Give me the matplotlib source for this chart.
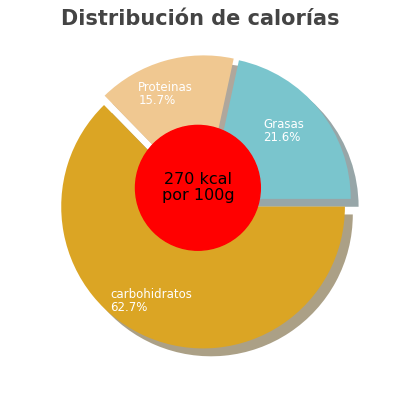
import matplotlib
matplotlib.use("Agg")
import matplotlib.pyplot as plt

labels = ["Grasas", "Proteinas", "carbohidratos"]
values = [21.6, 15.7, 62.7]
colors = ["#7ac5cd", "#f0c891", "#dba524"]
label_pos = [(0.41, 0.50), (-0.47, 0.76), (-0.67, -0.70)]
center_text = "270 kcal\npor 100g"
title = "Distribución de calorías"

fig = plt.figure(figsize=(4, 4), dpi=100)
ax = fig.add_axes([0.0125, -0.005, 1, 1])
ax.pie(values, colors=colors, startangle=0, counterclock=True,
       explode=[0.035] * 3, shadow={'ox': 0.04, 'oy': -0.04, 'shade': 0.6},
       radius=1.0, wedgeprops=dict(linewidth=0))
cx, cy = -0.05, 0.10
ax.add_patch(plt.Circle((cx, cy), 0.44, color="#ff0000", zorder=5))
ax.text(cx, cy, center_text, ha="center", va="center", fontsize=11.5, zorder=6,
        linespacing=1.1)
for lab, v, (x, y) in zip(labels, values, label_pos):
    ax.text(x, y, f"{lab}\n{v}%", ha="left", va="center", color="white",
            fontsize=8.5, linespacing=1.0, zorder=6)
ax.set_xlim(-1.41, 1.41)
ax.set_ylim(-1.41, 1.41)
ax.set_aspect("equal")
ax.axis("off")
fig.text(0.5, 0.953, title, ha="center", va="center", fontsize=15,
         fontweight="bold", color="#444444")
fig.savefig("out.png")
